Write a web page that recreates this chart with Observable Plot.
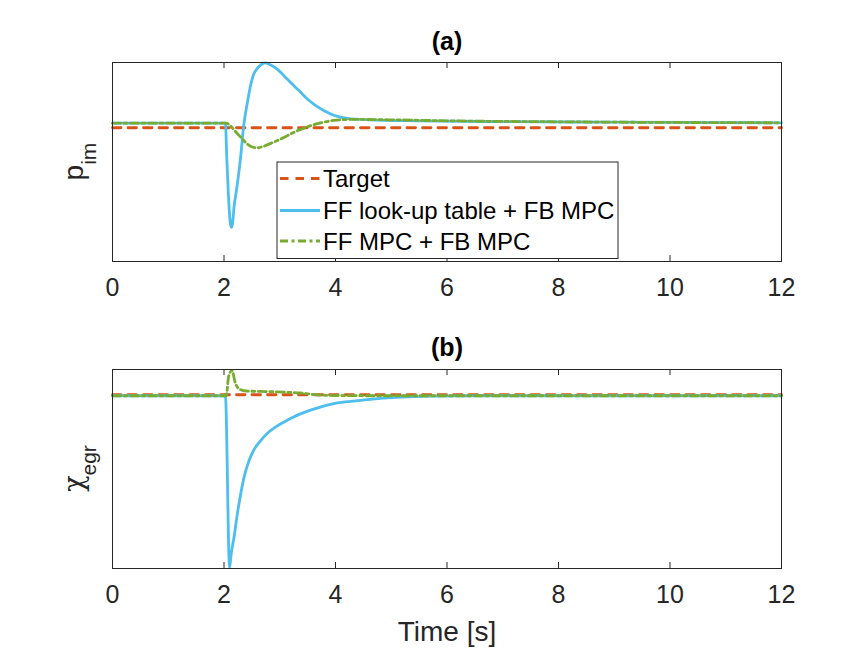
<!DOCTYPE html>
<html><head><meta charset="utf-8">
<script src="https://cdn.jsdelivr.net/npm/d3@7"></script>
<script src="https://cdn.jsdelivr.net/npm/@observablehq/plot@0.6"></script>
<style>
body{margin:0;background:#fff;}
#chart{position:relative;width:864px;height:648px;background:#fff;}
#chart svg{display:block;}
</style></head><body><div id="chart"></div>
<script>
// ---- data ----
const seriesNames = ["Target", "FF look-up table + FB MPC", "FF MPC + FB MPC"];
const seriesColors = ["#D95319", "#4DBEEE", "#77AC30"];
const xTicks = [0, 2, 4, 6, 8, 10, 12];
const panelTitles = ["(a)", "(b)"];
const xLabel = "Time [s]";

// panel (a): p_im (normalised, no y ticks in source)
const aTargetT = [0, 12];
const aTargetV = [0.672, 0.672];
const aLutT = [0, 2.025, 2.05, 2.08, 2.11, 2.13, 2.15, 2.18, 2.24, 2.30, 2.35, 2.42, 2.47, 2.53, 2.59, 2.66, 2.74, 2.82, 2.95, 3.07, 3.19, 3.34, 3.49, 3.64, 3.79, 3.97, 4.21, 4.6, 5.5, 7, 9, 12];
const aLutV = [0.695, 0.695, 0.52, 0.33, 0.20, 0.172, 0.185, 0.273, 0.39, 0.53, 0.675, 0.80, 0.876, 0.94, 0.968, 0.988, 0.998, 0.99, 0.968, 0.935, 0.901, 0.86, 0.818, 0.785, 0.759, 0.735, 0.719, 0.712, 0.707, 0.703, 0.700, 0.697];
const aMpcT = [0, 2.04, 2.08, 2.14, 2.20, 2.30, 2.42, 2.52, 2.59, 2.70, 2.89, 3.05, 3.19, 3.34, 3.49, 3.64, 3.79, 3.97, 4.33, 5.0, 6.0, 8.0, 12];
const aMpcV = [0.695, 0.695, 0.690, 0.675, 0.655, 0.625, 0.590, 0.574, 0.571, 0.578, 0.600, 0.620, 0.640, 0.660, 0.676, 0.690, 0.700, 0.709, 0.714, 0.712, 0.707, 0.702, 0.697];

// panel (b): chi_egr
const bTargetT = [0, 12];
const bTargetV = [0.873, 0.873];
const bLutT = [0, 2.025, 2.10, 2.13, 2.18, 2.24, 2.30, 2.36, 2.45, 2.53, 2.65, 2.77, 2.92, 3.07, 3.22, 3.37, 3.67, 3.97, 4.27, 4.57, 5.17, 5.77, 6.5, 8, 12];
const bLutV = [0.868, 0.868, 0.004, 0.075, 0.157, 0.276, 0.375, 0.459, 0.543, 0.593, 0.640, 0.677, 0.710, 0.735, 0.758, 0.777, 0.806, 0.828, 0.840, 0.849, 0.861, 0.866, 0.868, 0.868, 0.868];
const bMpcT = [0, 2.04, 2.08, 2.12, 2.14, 2.16, 2.19, 2.24, 2.30, 2.40, 2.77, 3.1, 3.37, 3.67, 4.0, 5, 12];
const bMpcV = [0.868, 0.868, 0.961, 0.99, 0.995, 0.985, 0.945, 0.911, 0.898, 0.892, 0.889, 0.886, 0.882, 0.873, 0.869, 0.868, 0.868];

// ---- helpers ----
const zip = (T, V) => T.map((t, i) => ({t, v: V[i]}));
const FONT = "'Liberation Sans', Arial, Helvetica, sans-serif";
const INK = "#262626";
const dashes = ["8.5,7", null, "8,3.5,3,3.5"];
const widths = [2.8, 2.8, 2.8];
const FRAME_H = 199;

function panel({series, title, mt, mb, showXLabel, titleDy}) {
  const marks = series.map((rows, i) => Plot.line(rows, {
    x: "t", y: "v", stroke: seriesColors[i], strokeWidth: widths[i],
    strokeDasharray: dashes[i], curve: i === 0 ? "linear" : "monotone-x"
  }));
  marks.push(
    Plot.frame({stroke: INK, strokeWidth: 1, strokeOpacity: 1}),
    Plot.tickX(xTicks, {x: d => d, insetTop: FRAME_H - 6, stroke: INK, strokeWidth: 1}),
    Plot.tickX(xTicks, {x: d => d, insetBottom: FRAME_H - 6, stroke: INK, strokeWidth: 1}),
    Plot.axisX({ticks: xTicks, tickSize: 0, tickPadding: 17, fontSize: 25, fill: INK, label: null}),
    Plot.text([title], {frameAnchor: "top", lineAnchor: "middle", dy: titleDy, text: d => d, fontSize: 25, fontWeight: "bold", fill: "#000"})
  );
  if (showXLabel) marks.push(Plot.text([xLabel], {frameAnchor: "bottom", lineAnchor: "middle", dy: 64, text: d => d, fontSize: 28, fill: INK}));
  return Plot.plot({
    width: 864, height: 324,
    marginLeft: 112, marginRight: 83, marginTop: mt, marginBottom: mb,
    style: {fontFamily: FONT, background: "transparent", color: INK, overflow: "visible"},
    x: {domain: [0, 12]},
    y: {domain: [0, 1], axis: null},
    marks
  });
}

const chart = document.getElementById("chart");
const p1 = panel({series: [zip(aTargetT, aTargetV), zip(aLutT, aLutV), zip(aMpcT, aMpcV)], title: panelTitles[0], mt: 62, mb: 63, showXLabel: false, titleDy: -21});
const p2 = panel({series: [zip(bTargetT, bTargetV), zip(bLutT, bLutV), zip(bMpcT, bMpcV)], title: panelTitles[1], mt: 45, mb: 80, showXLabel: true, titleDy: -21.5});
chart.appendChild(p1);
chart.appendChild(p2);

// y labels with subscripts
function yLabel(svg, cy, main, sub, mainFont, mainSize) {
  const t = d3.select(svg).append("text")
    .attr("transform", `translate(83,${cy}) rotate(-90)`)
    .attr("text-anchor", "middle")
    .attr("font-family", FONT).attr("fill", INK);
  t.append("tspan").attr("font-size", mainSize).attr("font-family", mainFont).text(main);
  t.append("tspan").attr("font-size", 21).attr("dy", 13).text(sub);
}
yLabel(p1, 161.5, "p", "im", FONT, 28);
yLabel(p2, 144.5, "\u03C7", "egr", "'DejaVu Serif', 'DejaVu Sans', serif", 27);

// legend in panel (a)
const lg = d3.select(p1).append("g").attr("font-family", FONT).attr("text-anchor", "start");
lg.append("rect").attr("x", 277).attr("y", 162).attr("width", 341).attr("height", 96.5)
  .attr("fill", "#fff").attr("stroke", INK).attr("stroke-width", 1);
const rowY = [178.5, 210.5, 241];
seriesNames.forEach((name, i) => {
  lg.append("line").attr("x1", 280).attr("x2", 320).attr("y1", rowY[i]).attr("y2", rowY[i])
    .attr("stroke", seriesColors[i]).attr("stroke-width", widths[i])
    .attr("stroke-dasharray", dashes[i]);
  lg.append("text").attr("x", 323).attr("y", rowY[i] + 8.5).attr("font-size", 24)
    .attr("text-anchor", "start").attr("fill", "#000").text(name);
});
</script></body></html>
